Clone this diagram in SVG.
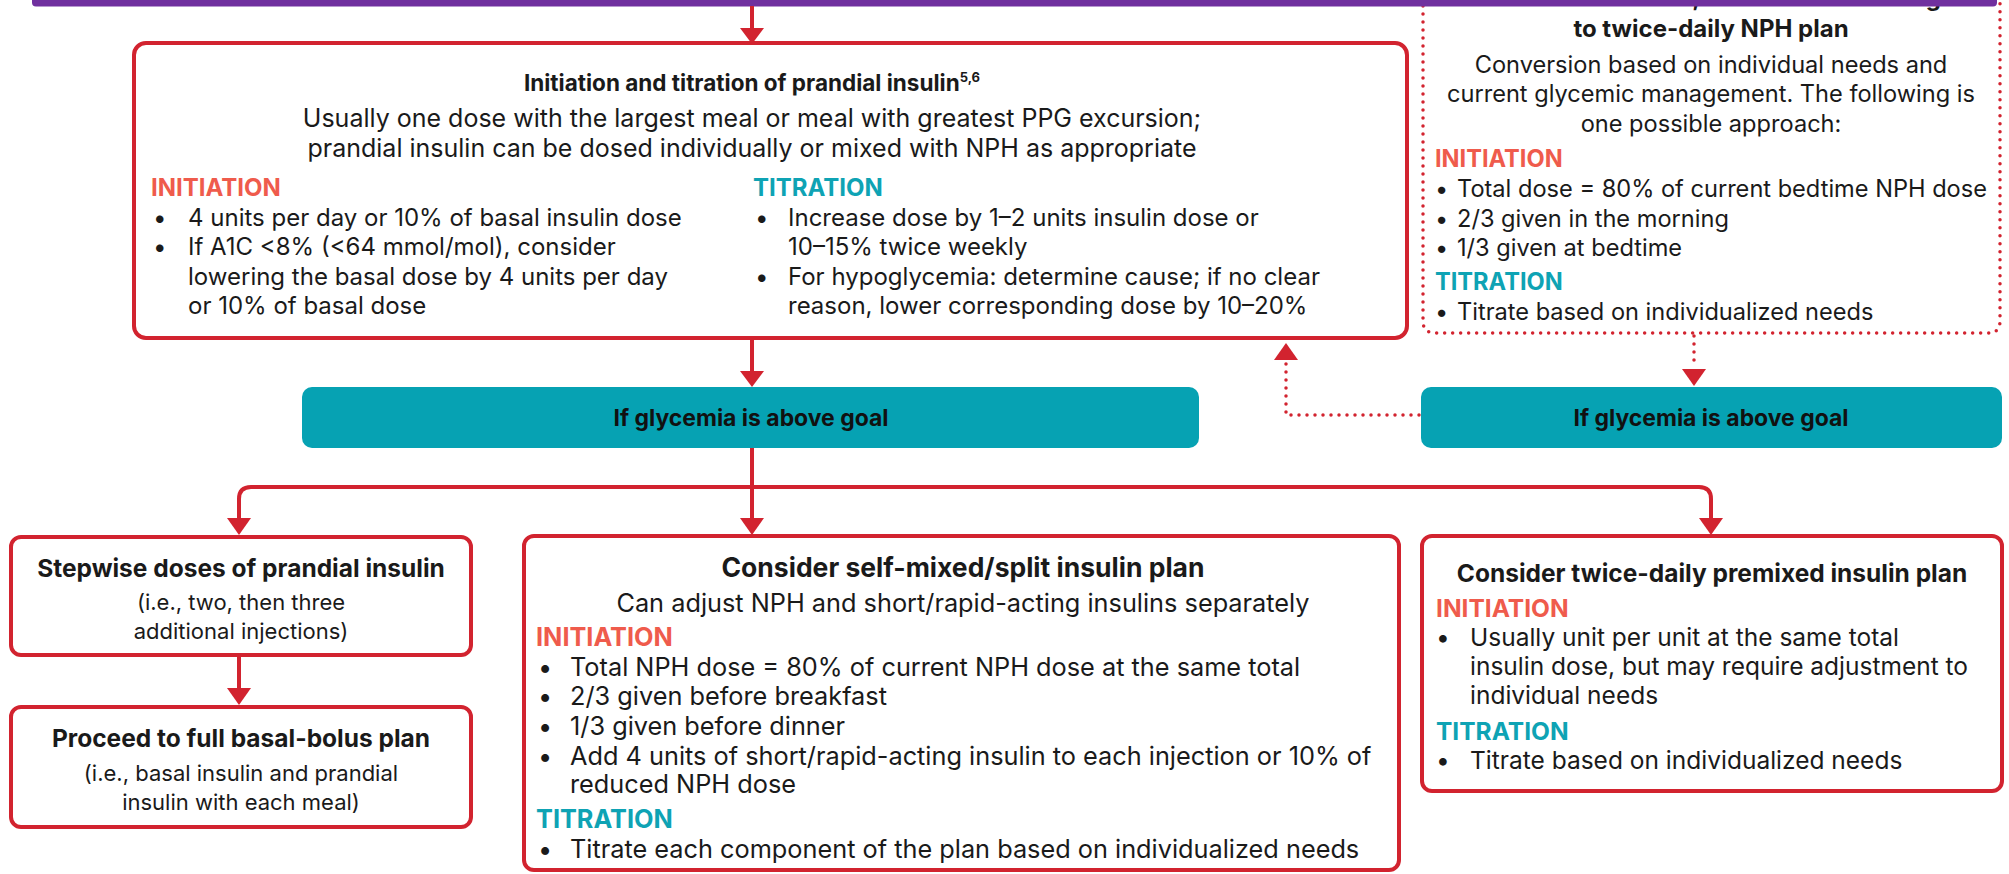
<svg xmlns="http://www.w3.org/2000/svg" width="2009" height="874" viewBox="0 0 2009 874">
<defs>
<style>
text{font-family:Inter,"Liberation Sans",Arial,sans-serif;fill:#1a1a1a;}
.t{font-size:24px;font-weight:bold;text-anchor:middle;}
.c{text-anchor:middle;}
.ini{font-weight:bold;fill:#ef5b4c;}
.tit{font-weight:bold;fill:#0ea3b4;}
.g{font-size:23px;font-weight:bold;text-anchor:middle;fill:#111;}
.box{fill:#fff;stroke:#d2232f;stroke-width:4;}
.teal{fill:#06a2b3;}
.ln{fill:none;stroke:#d2232f;stroke-width:4;}
.dot{fill:none;stroke:#d2232f;stroke-width:3.5;stroke-linecap:round;stroke-dasharray:0 8;}
.ah{fill:#d2232f;}
#node-nph text{font-size:23.6px;}
#node-nph text.t{font-size:24px;}
#node-prandial text{font-size:24px;}
#node-prandial text.sub{font-size:25px;}
#node-prandial text.hd{font-size:22.5px;font-weight:bold;}
#node-stepwise text,#node-basal-bolus text{font-size:22px;}
#node-stepwise text.t,#node-basal-bolus text.t{font-size:24.5px;}
#node-split text{font-size:25.3px;}
#node-split text.t{font-size:26.5px;}
#node-premixed text{font-size:24.5px;}
</style>
</defs>
<rect width="2009" height="874" fill="#fff"/>

<g id="node-nph">
<text class="t" x="1711" y="6">If on bedtime NPH, consider converting</text>
<path class="dot" d="M1423,-10 V321 Q1423,333 1435,333 H1988 Q2000,333 2000,321 V-10"/>
<text class="t" x="1711" y="37">to twice-daily NPH plan</text>
<text class="c" x="1711" y="73">Conversion based on individual needs and</text>
<text class="c" x="1711" y="102">current glycemic management. The following is</text>
<text class="c" x="1711" y="132">one possible approach:</text>
<text class="ini" x="1435" y="167">INITIATION</text>
<text x="1435" y="197">•</text><text x="1457" y="197">Total dose = 80% of current bedtime NPH dose</text>
<text x="1435" y="227">•</text><text x="1457" y="227">2/3 given in the morning</text>
<text x="1435" y="256">•</text><text x="1457" y="256">1/3 given at bedtime</text>
<text class="tit" x="1435" y="290">TITRATION</text>
<text x="1435" y="320">•</text><text x="1457" y="320">Titrate based on individualized needs</text>
</g>

<g id="band">
<rect x="32" y="-10" width="1965" height="16.5" rx="4" fill="#70309f"/>
</g>

<g id="connectors">
<line class="ln" x1="752" y1="6" x2="752" y2="29"/>
<polygon class="ah" points="740,28 764,28 752,44"/>
<line class="ln" x1="752" y1="338" x2="752" y2="372"/>
<polygon class="ah" points="740,371 764,371 752,387"/>
<path class="dot" d="M1694,336 V366"/>
<polygon class="ah" points="1682,369 1706,369 1694,386"/>
<path class="dot" d="M1419,415 H1286 V363"/>
<polygon class="ah" points="1274,360 1298,360 1286,343"/>
<line class="ln" x1="752" y1="448" x2="752" y2="519"/>
<polygon class="ah" points="740,518 764,518 752,535"/>
<path class="ln" d="M239,519 V499 Q239,487 251,487 H1699 Q1711,487 1711,499 V519"/>
<polygon class="ah" points="227,518 251,518 239,535"/>
<polygon class="ah" points="1699,518 1723,518 1711,535"/>
<line class="ln" x1="239" y1="655" x2="239" y2="689"/>
<polygon class="ah" points="227,688 251,688 239,705"/>
</g>

<g id="node-prandial">
<rect class="box" x="134" y="43" width="1273" height="295" rx="12"/>
<text class="c hd" x="752" y="91">Initiation and titration of prandial insulin<tspan font-size="13" dy="-9">5,6</tspan></text>
<text class="c sub" x="752" y="127">Usually one dose with the largest meal or meal with greatest PPG excursion;</text>
<text class="c sub" x="752" y="157">prandial insulin can be dosed individually or mixed with NPH as appropriate</text>
<text class="ini" x="151" y="196">INITIATION</text>
<text x="153" y="226">•</text><text x="188" y="226">4 units per day or 10% of basal insulin dose</text>
<text x="153" y="255">•</text><text x="188" y="255">If A1C &lt;8% (&lt;64 mmol/mol), consider</text>
<text x="188" y="285">lowering the basal dose by 4 units per day</text>
<text x="188" y="314">or 10% of basal dose</text>
<text class="tit" x="753" y="196">TITRATION</text>
<text x="755" y="226">•</text><text x="788" y="226">Increase dose by 1–2 units insulin dose or</text>
<text x="788" y="255">10–15% twice weekly</text>
<text x="755" y="285">•</text><text x="788" y="285">For hypoglycemia: determine cause; if no clear</text>
<text x="788" y="314">reason, lower corresponding dose by 10–20%</text>
</g>

<g id="node-goal-left">
<rect class="teal" x="302" y="387" width="897" height="61" rx="10"/>
<text class="g" x="751" y="426" textLength="275" lengthAdjust="spacingAndGlyphs">If glycemia is above goal</text>
</g>

<g id="node-goal-right">
<rect class="teal" x="1421" y="387" width="581" height="61" rx="10"/>
<text class="g" x="1711" y="426" textLength="275" lengthAdjust="spacingAndGlyphs">If glycemia is above goal</text>
</g>

<g id="node-stepwise">
<rect class="box" x="11" y="537" width="460" height="118" rx="10"/>
<text class="t" x="241" y="577">Stepwise doses of prandial insulin</text>
<text class="c" x="241" y="610">(i.e., two, then three</text>
<text class="c" x="241" y="639">additional injections)</text>
</g>

<g id="node-basal-bolus">
<rect class="box" x="11" y="707" width="460" height="120" rx="10"/>
<text class="t" x="241" y="747">Proceed to full basal-bolus plan</text>
<text class="c" x="241" y="781">(i.e., basal insulin and prandial</text>
<text class="c" x="241" y="810">insulin with each meal)</text>
</g>

<g id="node-split">
<rect class="box" x="524" y="536" width="875" height="334" rx="10"/>
<text class="t" x="963" y="577">Consider self-mixed/split insulin plan</text>
<text class="c" x="963" y="612">Can adjust NPH and short/rapid-acting insulins separately</text>
<text class="ini" x="536" y="646">INITIATION</text>
<text x="538" y="676">•</text><text x="570" y="676">Total NPH dose = 80% of current NPH dose at the same total</text>
<text x="538" y="705">•</text><text x="570" y="705">2/3 given before breakfast</text>
<text x="538" y="735">•</text><text x="570" y="735">1/3 given before dinner</text>
<text x="538" y="765">•</text><text x="570" y="765">Add 4 units of short/rapid-acting insulin to each injection or 10% of</text>
<text x="570" y="793">reduced NPH dose</text>
<text class="tit" x="536" y="828">TITRATION</text>
<text x="538" y="858">•</text><text x="570" y="858">Titrate each component of the plan based on individualized needs</text>
</g>

<g id="node-premixed">
<rect class="box" x="1422" y="536" width="580" height="255" rx="10"/>
<text class="t" x="1712" y="582">Consider twice-daily premixed insulin plan</text>
<text class="ini" x="1436" y="617">INITIATION</text>
<text x="1436" y="646">•</text><text x="1470" y="646">Usually unit per unit at the same total</text>
<text x="1470" y="675">insulin dose, but may require adjustment to</text>
<text x="1470" y="704">individual needs</text>
<text class="tit" x="1436" y="740">TITRATION</text>
<text x="1436" y="769">•</text><text x="1470" y="769">Titrate based on individualized needs</text>
</g>
</svg>
